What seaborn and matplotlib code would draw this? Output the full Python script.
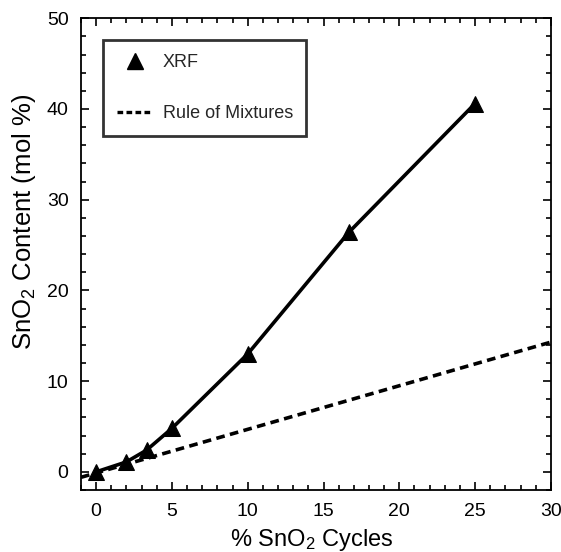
import matplotlib
matplotlib.use("Agg")
import matplotlib.pyplot as plt
from matplotlib.lines import Line2D
from matplotlib.ticker import MultipleLocator
import seaborn as sns
import pandas as pd

# Measured SnO2 content (XRF) vs. fraction of SnO2 cycles
cycles_pct = [0, 2, 3.33, 5, 10, 16.67, 25]
xrf_mol_pct = [0, 1.1, 2.4, 4.8, 13.0, 26.4, 40.6]

# Rule-of-mixtures prediction
rom_cycles = [-1, 30]
rom_mol_pct = [-0.6, 14.3]

sns.set_theme(style="white")
plt.rcParams["font.family"] = ["Liberation Sans", "DejaVu Sans"]
plt.rcParams["mathtext.fontset"] = "custom"
plt.rcParams["mathtext.rm"] = "Liberation Sans"
plt.rcParams["mathtext.it"] = "Liberation Sans"

fig = plt.figure(figsize=(5.61, 5.52), dpi=100)
ax = fig.add_axes([0.1444, 0.1123, 0.8376, 0.8547])

xrf = pd.DataFrame({"x": cycles_pct, "y": xrf_mol_pct})
rom = pd.DataFrame({"x": rom_cycles, "y": rom_mol_pct})

sns.lineplot(data=rom, x="x", y="y", ax=ax, color="black", lw=2.6,
             linestyle=(0, (2.4, 1.5)), zorder=2)
sns.lineplot(data=xrf, x="x", y="y", ax=ax, color="black", lw=2.6,
             marker="^", markersize=11, markeredgecolor="black", zorder=3)

ax.set_xlim(-1, 30)
ax.set_ylim(-2, 50)
ax.xaxis.set_major_locator(MultipleLocator(5))
ax.xaxis.set_minor_locator(MultipleLocator(1))
ax.yaxis.set_major_locator(MultipleLocator(10))
ax.yaxis.set_minor_locator(MultipleLocator(2))
ax.tick_params(which="both", direction="in", top=True, right=True,
               bottom=True, left=True, color="black", width=1.2)
ax.tick_params(which="major", length=6, labelsize=14, pad=9, colors="black")
ax.tick_params(which="minor", length=3.5)
for s in ax.spines.values():
    s.set_color("black")
    s.set_linewidth(1.3)

ax.set_xlabel(r"% SnO$_2$ Cycles", fontsize=17, color="black")
ax.set_ylabel(r"SnO$_2$ Content (mol %)", fontsize=18.5, color="black")
ax.xaxis.set_label_coords(0.49, -0.078)
ax.yaxis.set_label_coords(-0.092, 0.568)

handles = [
    Line2D([], [], color="black", marker="^", markersize=11, linestyle="none"),
    Line2D([], [], color="black", lw=2.4, linestyle=(0, (1.7, 1.0))),
]
leg = ax.legend(handles, ["XRF", "Rule of Mixtures"], loc="upper left",
                bbox_to_anchor=(0.047, 0.953), fontsize=13, frameon=True,
                fancybox=False, edgecolor="black", labelspacing=1.9,
                handlelength=2.0, handletextpad=0.55, borderpad=0.75,
                borderaxespad=0)
leg.get_frame().set_linewidth(2.0)

fig.savefig("out.png", dpi=100, facecolor="white")
